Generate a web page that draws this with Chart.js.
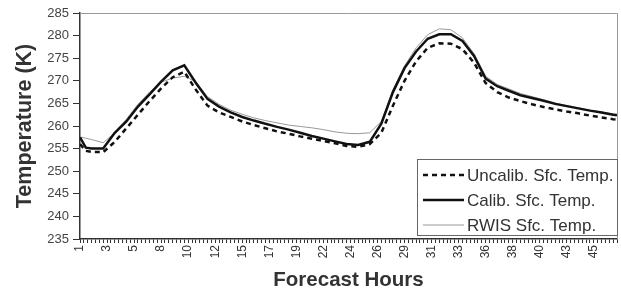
<!DOCTYPE html>
<html>
<head>
<meta charset="utf-8">
<script src="https://cdn.jsdelivr.net/npm/chart.js@4.4.0/dist/chart.umd.min.js"></script>
<style>
  html, body { margin: 0; padding: 0; background: #fff; }
  #wrap { width: 621px; height: 296px; }
</style>
</head>
<body>
<div id="wrap"><canvas id="chart"></canvas></div>
<script>
// --- data (hours, Kelvin) ---
const hours = [1, 1.5, 2, 3, 4, 5, 6, 7, 8, 9, 10, 11, 12, 13, 14, 15, 16, 17, 18, 19, 20, 21, 22, 23, 24,
  25, 26, 27, 28, 29, 30, 31, 32, 33, 34, 35, 36, 37, 38, 39, 40, 41, 42, 43, 44, 45, 46, 47, 47.33];

const uncalibTemp = [256.0, 254.5, 254.3, 254.2, 256.5, 259.5, 262.5, 265.5, 268.3, 270.8, 272.0, 268.0, 264.5,
  263.0, 262.0, 261.0, 260.2, 259.5, 258.8, 258.3, 257.7, 257.2, 256.7, 256.2, 255.6, 255.4, 256.0, 258.5,
  264.5, 270.0, 274.3, 277.3, 278.3, 278.2, 277.0, 274.0, 269.5, 267.5, 266.3, 265.5, 264.8, 264.2, 263.7,
  263.2, 262.8, 262.3, 261.9, 261.5, 261.4];

const calibTemp = [257.5, 255.2, 255.0, 255.0, 258.5, 261.0, 264.3, 267.0, 269.8, 272.3, 273.4, 269.5, 266.0,
  264.3, 263.0, 262.0, 261.2, 260.5, 259.8, 259.2, 258.5, 257.8, 257.2, 256.6, 256.0, 255.8, 256.5, 260.5,
  267.5, 272.8, 276.5, 279.3, 280.3, 280.3, 278.8, 275.5, 270.5, 268.8, 267.8, 266.8, 266.2, 265.6, 264.9,
  264.4, 263.9, 263.4, 263.0, 262.5, 262.4];

const rwisTemp = [257.6, 257.3, 257.0, 256.3, 258.5, 261.5, 264.8, 267.5, 269.7, 270.6, 271.0, 269.8, 266.5,
  264.8, 263.5, 262.6, 261.8, 261.2, 260.7, 260.2, 259.9, 259.6, 259.2, 258.7, 258.4, 258.3, 258.5, 261.0,
  268.0, 273.3, 277.3, 280.2, 281.5, 281.3, 279.5, 276.0, 271.0, 269.2, 268.2, 267.2, 266.5, 265.8, 265.1,
  264.5, 264.0, 263.5, 263.1, 262.7, 262.6];

// x labels every 7th step of 20 minutes (hours shown truncated)
const tickLabels = ['1', '3', '5', '8', '10', '12', '15', '17', '19', '22', '24', '26', '29', '31', '33',
  '36', '38', '40', '43', '45'];
const stepsPerHour = 3;
const lastStep = 139;

const seriesNames = ['Uncalib. Sfc. Temp.', 'Calib. Sfc. Temp.', 'RWIS Sfc. Temp.'];

const FONT = '"Liberation Sans", Arial, sans-serif';
Chart.defaults.font.family = FONT;
Chart.defaults.color = '#333';

const toPoints = (arr) => arr.map((v, i) => ({ x: hours[i], y: v }));

// gray frame on top and right of the plot
const frame = {
  id: 'frame',
  beforeDatasetsDraw(chart) {
    const { ctx, chartArea: a } = chart;
    ctx.save();
    ctx.strokeStyle = '#999';
    ctx.lineWidth = 1;
    ctx.beginPath();
    ctx.moveTo(a.left, a.top + 0.5);
    ctx.lineTo(a.right + 0.5, a.top + 0.5);
    ctx.lineTo(a.right + 0.5, a.bottom);
    ctx.stroke();
    ctx.restore();
  }
};

// boxed legend in the lower right corner of the plot
const boxLegend = {
  id: 'boxLegend',
  afterDatasetsDraw(chart) {
    const { ctx, chartArea: a } = chart;
    const bx = a.left + 337, by = a.top + 146, bw = a.right - bx + 1, bh = 77;
    ctx.save();
    ctx.fillStyle = '#fff';
    ctx.fillRect(bx, by, bw, bh);
    ctx.strokeStyle = '#666';
    ctx.lineWidth = 1;
    ctx.strokeRect(bx + 0.5, by + 0.5, bw - 1, bh - 1);
    ctx.font = '17px ' + FONT;
    ctx.textBaseline = 'middle';
    chart.data.datasets.forEach((ds, i) => {
      const y = by + 16 + i * 25;
      ctx.strokeStyle = ds.borderColor;
      ctx.lineWidth = ds.borderWidth;
      ctx.setLineDash(ds.borderDash || []);
      ctx.beginPath();
      ctx.moveTo(bx + 6, y);
      ctx.lineTo(bx + 47, y);
      ctx.stroke();
      ctx.setLineDash([]);
      ctx.fillStyle = '#333';
      ctx.fillText(ds.label, bx + 50, y + 1);
    });
    ctx.restore();
  }
};

new Chart(document.getElementById('chart'), {
  type: 'line',
  data: {
    datasets: [{
      label: seriesNames[0],
      data: toPoints(uncalibTemp),
      borderColor: '#111',
      borderWidth: 2.5,
      borderDash: [5, 4]
    }, {
      label: seriesNames[1],
      data: toPoints(calibTemp),
      borderColor: '#111',
      borderWidth: 2.5
    }, {
      label: seriesNames[2],
      data: toPoints(rwisTemp),
      borderColor: '#999',
      borderWidth: 1
    }]
  },
  options: {
    responsive: true,
    maintainAspectRatio: false,
    animation: false,
    layout: { padding: { top: 13, right: 4, left: 0, bottom: 0 } },
    elements: { point: { radius: 0 }, line: { tension: 0 } },
    plugins: { legend: { display: false }, tooltip: { enabled: false } },
    scales: {
      x: {
        type: 'linear',
        min: 1,
        max: 1 + lastStep / stepsPerHour,
        afterBuildTicks: (s) => {
          const t = [];
          for (let k = 0; k <= lastStep; k++) t.push({ value: 1 + k / stepsPerHour });
          s.ticks = t;
        },
        afterFit: (s) => {
          s.height = 57;
          s.paddingLeft = 0;
          s.paddingRight = 0;
        },
        ticks: {
          autoSkip: false,
          minRotation: 90,
          maxRotation: 90,
          padding: 2,
          color: '#333',
          font: { size: 12 },
          callback: (v, i) => (i % 7 === 0 ? tickLabels[i / 7] : '')
        },
        grid: { drawOnChartArea: false, drawTicks: true, tickLength: 4, color: '#333' },
        border: { display: true, color: '#333', width: 1.5 },
        title: {
          display: true,
          text: 'Forecast Hours',
          color: '#333',
          font: { size: 20.5, weight: 'bold' },
          padding: { top: 0, bottom: 3 }
        }
      },
      y: {
        min: 235,
        max: 285,
        afterFit: (s) => { s.width = 80; },
        ticks: { stepSize: 5, padding: 4, color: '#444', font: { size: 13 } },
        grid: { drawOnChartArea: false, drawTicks: true, tickLength: 7, color: '#333' },
        border: { display: true, color: '#333', width: 1.5 },
        title: {
          display: true,
          text: 'Temperature (K)',
          color: '#333',
          font: { size: 21.5, weight: 'bold' },
          padding: { top: 12, bottom: 0 }
        }
      }
    }
  },
  plugins: [frame, boxLegend]
});
</script>
</body>
</html>
